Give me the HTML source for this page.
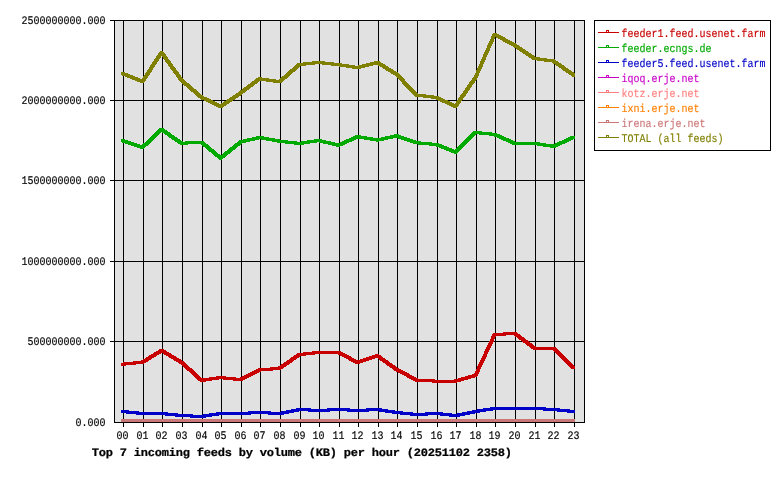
<!DOCTYPE html>
<html lang="en"><head><meta charset="utf-8"><title>Top 7 incoming feeds by volume (KB) per hour</title>
<style>html,body{margin:0;padding:0;background:#fff;overflow:hidden}svg{display:block}
.s{font-family:"Liberation Mono", "DejaVu Sans Mono", monospace;font-size:10px;letter-spacing:0px;white-space:pre;text-rendering:geometricPrecision;stroke-width:0.12px}
.b{font-family:"Liberation Mono", "DejaVu Sans Mono", monospace;font-size:12px;font-weight:bold;letter-spacing:-0.2px;white-space:pre;text-rendering:geometricPrecision;stroke-width:0.25px}
</style></head><body>
<svg width="780" height="480" viewBox="0 0 780 480">
<rect x="0" y="0" width="780" height="480" fill="#ffffff"/>
<g shape-rendering="crispEdges">
<rect x="114" y="20" width="471" height="403" fill="#e1e1e1"/>
<rect x="123" y="20" width="1" height="407" fill="#000"/>
<rect x="143" y="20" width="1" height="407" fill="#000"/>
<rect x="162" y="20" width="1" height="407" fill="#000"/>
<rect x="182" y="20" width="1" height="407" fill="#000"/>
<rect x="202" y="20" width="1" height="407" fill="#000"/>
<rect x="221" y="20" width="1" height="407" fill="#000"/>
<rect x="241" y="20" width="1" height="407" fill="#000"/>
<rect x="260" y="20" width="1" height="407" fill="#000"/>
<rect x="280" y="20" width="1" height="407" fill="#000"/>
<rect x="300" y="20" width="1" height="407" fill="#000"/>
<rect x="319" y="20" width="1" height="407" fill="#000"/>
<rect x="339" y="20" width="1" height="407" fill="#000"/>
<rect x="358" y="20" width="1" height="407" fill="#000"/>
<rect x="378" y="20" width="1" height="407" fill="#000"/>
<rect x="397" y="20" width="1" height="407" fill="#000"/>
<rect x="417" y="20" width="1" height="407" fill="#000"/>
<rect x="437" y="20" width="1" height="407" fill="#000"/>
<rect x="456" y="20" width="1" height="407" fill="#000"/>
<rect x="476" y="20" width="1" height="407" fill="#000"/>
<rect x="495" y="20" width="1" height="407" fill="#000"/>
<rect x="515" y="20" width="1" height="407" fill="#000"/>
<rect x="535" y="20" width="1" height="407" fill="#000"/>
<rect x="554" y="20" width="1" height="407" fill="#000"/>
<rect x="574" y="20" width="1" height="407" fill="#000"/>
<rect x="114" y="422" width="471" height="1" fill="#000"/>
<rect x="110" y="341" width="475" height="1" fill="#000"/>
<rect x="110" y="261" width="475" height="1" fill="#000"/>
<rect x="110" y="180" width="475" height="1" fill="#000"/>
<rect x="110" y="100" width="475" height="1" fill="#000"/>
<rect x="110" y="20" width="475" height="1" fill="#000"/>
<rect x="114" y="20" width="1" height="403" fill="#000"/>
<rect x="584" y="20" width="1" height="403" fill="#000"/>
<path fill="#c80000" d="M121.00 362.70 L141.00 360.70 L144.00 360.70 L144.00 363.70 L124.00 365.70 L121.00 365.70Z M141.00 360.70 L160.00 349.00 L163.00 349.00 L163.00 352.00 L144.00 363.70 L141.00 363.70Z M160.00 349.00 L163.00 349.00 L183.00 360.80 L183.00 363.80 L180.00 363.80 L160.00 352.00Z M180.00 360.80 L183.00 360.80 L203.00 378.90 L203.00 381.90 L200.00 381.90 L180.00 363.80Z M200.00 378.90 L219.00 376.10 L222.00 376.10 L222.00 379.10 L203.00 381.90 L200.00 381.90Z M219.00 376.10 L222.00 376.10 L242.00 378.10 L242.00 381.10 L239.00 381.10 L219.00 379.10Z M239.00 378.10 L258.00 368.50 L261.00 368.50 L261.00 371.50 L242.00 381.10 L239.00 381.10Z M258.00 368.50 L278.00 366.80 L281.00 366.80 L281.00 369.80 L261.00 371.50 L258.00 371.50Z M278.00 366.80 L298.00 353.00 L301.00 353.00 L301.00 356.00 L281.00 369.80 L278.00 369.80Z M298.00 353.00 L317.00 351.00 L320.00 351.00 L320.00 354.00 L301.00 356.00 L298.00 356.00Z M317.00 351.00 L340.00 351.00 L340.00 354.00 L317.00 354.00Z M337.00 351.00 L340.00 351.00 L359.00 360.90 L359.00 363.90 L356.00 363.90 L337.00 354.00Z M356.00 360.90 L376.00 354.30 L379.00 354.30 L379.00 357.30 L359.00 363.90 L356.00 363.90Z M376.00 354.30 L379.00 354.30 L398.00 367.90 L398.00 370.90 L395.00 370.90 L376.00 357.30Z M395.00 367.90 L398.00 367.90 L418.00 378.50 L418.00 381.50 L415.00 381.50 L395.00 370.90Z M415.00 378.50 L418.00 378.50 L438.00 379.70 L438.00 382.70 L435.00 382.70 L415.00 381.50Z M435.00 379.70 L454.00 379.50 L457.00 379.50 L457.00 382.50 L438.00 382.70 L435.00 382.70Z M454.00 379.50 L474.00 373.90 L477.00 373.90 L477.00 376.90 L457.00 382.50 L454.00 382.50Z M474.00 373.90 L493.00 333.20 L496.00 333.20 L496.00 336.20 L477.00 376.90 L474.00 376.90Z M493.00 333.20 L513.00 331.80 L516.00 331.80 L516.00 334.80 L496.00 336.20 L493.00 336.20Z M513.00 331.80 L516.00 331.80 L536.00 346.80 L536.00 349.80 L533.00 349.80 L513.00 334.80Z M533.00 346.80 L555.00 346.80 L555.00 349.80 L533.00 349.80Z M552.00 346.80 L555.00 346.80 L575.00 366.20 L575.00 369.20 L572.00 369.20 L552.00 349.80Z"/>
<path fill="#00aa00" d="M121.00 139.30 L124.00 139.30 L144.00 145.80 L144.00 148.80 L141.00 148.80 L121.00 142.30Z M141.00 145.80 L160.00 128.00 L163.00 128.00 L163.00 131.00 L144.00 148.80 L141.00 148.80Z M160.00 128.00 L163.00 128.00 L183.00 141.80 L183.00 144.80 L180.00 144.80 L160.00 131.00Z M180.00 141.80 L200.00 140.70 L203.00 140.70 L203.00 143.70 L183.00 144.80 L180.00 144.80Z M200.00 140.70 L203.00 140.70 L222.00 156.50 L222.00 159.50 L219.00 159.50 L200.00 143.70Z M219.00 156.50 L239.00 140.50 L242.00 140.50 L242.00 143.50 L222.00 159.50 L219.00 159.50Z M239.00 140.50 L258.00 136.00 L261.00 136.00 L261.00 139.00 L242.00 143.50 L239.00 143.50Z M258.00 136.00 L261.00 136.00 L281.00 139.70 L281.00 142.70 L278.00 142.70 L258.00 139.00Z M278.00 139.70 L281.00 139.70 L301.00 141.90 L301.00 144.90 L298.00 144.90 L278.00 142.70Z M298.00 141.90 L317.00 139.00 L320.00 139.00 L320.00 142.00 L301.00 144.90 L298.00 144.90Z M317.00 139.00 L320.00 139.00 L340.00 143.70 L340.00 146.70 L337.00 146.70 L317.00 142.00Z M337.00 143.70 L356.00 135.20 L359.00 135.20 L359.00 138.20 L340.00 146.70 L337.00 146.70Z M356.00 135.20 L359.00 135.20 L379.00 138.50 L379.00 141.50 L376.00 141.50 L356.00 138.20Z M376.00 138.50 L395.00 134.30 L398.00 134.30 L398.00 137.30 L379.00 141.50 L376.00 141.50Z M395.00 134.30 L398.00 134.30 L418.00 141.20 L418.00 144.20 L415.00 144.20 L395.00 137.30Z M415.00 141.20 L418.00 141.20 L438.00 143.00 L438.00 146.00 L435.00 146.00 L415.00 144.20Z M435.00 143.00 L438.00 143.00 L457.00 150.60 L457.00 153.60 L454.00 153.60 L435.00 146.00Z M454.00 150.60 L474.00 131.00 L477.00 131.00 L477.00 134.00 L457.00 153.60 L454.00 153.60Z M474.00 131.00 L477.00 131.00 L496.00 132.90 L496.00 135.90 L493.00 135.90 L474.00 134.00Z M493.00 132.90 L496.00 132.90 L516.00 141.80 L516.00 144.80 L513.00 144.80 L493.00 135.90Z M513.00 141.80 L536.00 141.80 L536.00 144.80 L513.00 144.80Z M533.00 141.80 L536.00 141.80 L555.00 144.90 L555.00 147.90 L552.00 147.90 L533.00 144.80Z M552.00 144.90 L572.00 135.70 L575.00 135.70 L575.00 138.70 L555.00 147.90 L552.00 147.90Z"/>
<path fill="#0000c8" d="M121.00 410.00 L124.00 410.00 L144.00 412.00 L144.00 415.00 L141.00 415.00 L121.00 413.00Z M141.00 412.00 L163.00 412.00 L163.00 415.00 L141.00 415.00Z M160.00 412.00 L163.00 412.00 L183.00 414.00 L183.00 417.00 L180.00 417.00 L160.00 415.00Z M180.00 414.00 L183.00 414.00 L203.00 415.00 L203.00 418.00 L200.00 418.00 L180.00 417.00Z M200.00 415.00 L219.00 412.00 L222.00 412.00 L222.00 415.00 L203.00 418.00 L200.00 418.00Z M219.00 412.00 L242.00 412.00 L242.00 415.00 L219.00 415.00Z M239.00 412.00 L258.00 411.00 L261.00 411.00 L261.00 414.00 L242.00 415.00 L239.00 415.00Z M258.00 411.00 L261.00 411.00 L281.00 412.00 L281.00 415.00 L278.00 415.00 L258.00 414.00Z M278.00 412.00 L298.00 408.00 L301.00 408.00 L301.00 411.00 L281.00 415.00 L278.00 415.00Z M298.00 408.00 L301.00 408.00 L320.00 409.00 L320.00 412.00 L317.00 412.00 L298.00 411.00Z M317.00 409.00 L337.00 408.00 L340.00 408.00 L340.00 411.00 L320.00 412.00 L317.00 412.00Z M337.00 408.00 L340.00 408.00 L359.00 409.00 L359.00 412.00 L356.00 412.00 L337.00 411.00Z M356.00 409.00 L376.00 408.00 L379.00 408.00 L379.00 411.00 L359.00 412.00 L356.00 412.00Z M376.00 408.00 L379.00 408.00 L398.00 411.00 L398.00 414.00 L395.00 414.00 L376.00 411.00Z M395.00 411.00 L398.00 411.00 L418.00 413.00 L418.00 416.00 L415.00 416.00 L395.00 414.00Z M415.00 413.00 L435.00 412.00 L438.00 412.00 L438.00 415.00 L418.00 416.00 L415.00 416.00Z M435.00 412.00 L438.00 412.00 L457.00 414.00 L457.00 417.00 L454.00 417.00 L435.00 415.00Z M454.00 414.00 L474.00 410.00 L477.00 410.00 L477.00 413.00 L457.00 417.00 L454.00 417.00Z M474.00 410.00 L493.00 407.00 L496.00 407.00 L496.00 410.00 L477.00 413.00 L474.00 413.00Z M493.00 407.00 L516.00 407.00 L516.00 410.00 L493.00 410.00Z M513.00 407.00 L536.00 407.00 L536.00 410.00 L513.00 410.00Z M533.00 407.00 L536.00 407.00 L555.00 408.00 L555.00 411.00 L552.00 411.00 L533.00 410.00Z M552.00 408.00 L555.00 408.00 L575.00 410.00 L575.00 413.00 L572.00 413.00 L552.00 411.00Z"/>
<rect x="121" y="419" width="454" height="3" fill="#cc7777"/>
<path fill="#7f7f00" d="M121.00 72.00 L124.00 72.00 L144.00 80.00 L144.00 83.00 L141.00 83.00 L121.00 75.00Z M141.00 80.00 L160.00 51.00 L163.00 51.00 L163.00 54.00 L144.00 83.00 L141.00 83.00Z M160.00 51.00 L163.00 51.00 L183.00 78.70 L183.00 81.70 L180.00 81.70 L160.00 54.00Z M180.00 78.70 L183.00 78.70 L203.00 95.80 L203.00 98.80 L200.00 98.80 L180.00 81.70Z M200.00 95.80 L203.00 95.80 L222.00 104.90 L222.00 107.90 L219.00 107.90 L200.00 98.80Z M219.00 104.90 L239.00 91.50 L242.00 91.50 L242.00 94.50 L222.00 107.90 L219.00 107.90Z M239.00 91.50 L258.00 77.30 L261.00 77.30 L261.00 80.30 L242.00 94.50 L239.00 94.50Z M258.00 77.30 L261.00 77.30 L281.00 80.30 L281.00 83.30 L278.00 83.30 L258.00 80.30Z M278.00 80.30 L298.00 63.00 L301.00 63.00 L301.00 66.00 L281.00 83.30 L278.00 83.30Z M298.00 63.00 L317.00 61.00 L320.00 61.00 L320.00 64.00 L301.00 66.00 L298.00 66.00Z M317.00 61.00 L320.00 61.00 L340.00 63.20 L340.00 66.20 L337.00 66.20 L317.00 64.00Z M337.00 63.20 L340.00 63.20 L359.00 66.10 L359.00 69.10 L356.00 69.10 L337.00 66.20Z M356.00 66.10 L376.00 61.10 L379.00 61.10 L379.00 64.10 L359.00 69.10 L356.00 69.10Z M376.00 61.10 L379.00 61.10 L398.00 72.70 L398.00 75.70 L395.00 75.70 L376.00 64.10Z M395.00 72.70 L398.00 72.70 L418.00 93.50 L418.00 96.50 L415.00 96.50 L395.00 75.70Z M415.00 93.50 L418.00 93.50 L438.00 96.00 L438.00 99.00 L435.00 99.00 L415.00 96.50Z M435.00 96.00 L438.00 96.00 L457.00 104.90 L457.00 107.90 L454.00 107.90 L435.00 99.00Z M454.00 104.90 L474.00 76.00 L477.00 76.00 L477.00 79.00 L457.00 107.90 L454.00 107.90Z M474.00 76.00 L493.00 33.00 L496.00 33.00 L496.00 36.00 L477.00 79.00 L474.00 79.00Z M493.00 33.00 L496.00 33.00 L516.00 43.50 L516.00 46.50 L513.00 46.50 L493.00 36.00Z M513.00 43.50 L516.00 43.50 L536.00 57.00 L536.00 60.00 L533.00 60.00 L513.00 46.50Z M533.00 57.00 L536.00 57.00 L555.00 59.50 L555.00 62.50 L552.00 62.50 L533.00 60.00Z M552.00 59.50 L555.00 59.50 L575.00 73.50 L575.00 76.50 L572.00 76.50 L552.00 62.50Z"/>
<rect x="594.5" y="20.5" width="176" height="130" fill="#fff" stroke="#000" stroke-width="1"/>
<rect x="598" y="32" width="21" height="1" fill="#c80000"/>
<rect x="606.5" y="30.5" width="2" height="2" fill="#fff" stroke="#c80000" stroke-width="1"/>
<rect x="598" y="47" width="21" height="1" fill="#00aa00"/>
<rect x="606.5" y="45.5" width="2" height="2" fill="#fff" stroke="#00aa00" stroke-width="1"/>
<rect x="598" y="62" width="21" height="1" fill="#0000c8"/>
<rect x="606.5" y="60.5" width="2" height="2" fill="#fff" stroke="#0000c8" stroke-width="1"/>
<rect x="598" y="77" width="21" height="1" fill="#c800c8"/>
<rect x="606.5" y="75.5" width="2" height="2" fill="#fff" stroke="#c800c8" stroke-width="1"/>
<rect x="598" y="92" width="21" height="1" fill="#ff7f7f"/>
<rect x="606.5" y="90.5" width="2" height="2" fill="#fff" stroke="#ff7f7f" stroke-width="1"/>
<rect x="598" y="107" width="21" height="1" fill="#ff7f00"/>
<rect x="606.5" y="105.5" width="2" height="2" fill="#fff" stroke="#ff7f00" stroke-width="1"/>
<rect x="598" y="122" width="21" height="1" fill="#cc7777"/>
<rect x="606.5" y="120.5" width="2" height="2" fill="#fff" stroke="#cc7777" stroke-width="1"/>
<rect x="598" y="137" width="21" height="1" fill="#7f7f00"/>
<rect x="606.5" y="135.5" width="2" height="2" fill="#fff" stroke="#7f7f00" stroke-width="1"/>
</g>
<text class="s" fill="#c80000" stroke="#c80000" transform="translate(621.5,37) scale(1,1.16)">feeder1.feed.usenet.farm</text>
<text class="s" fill="#00aa00" stroke="#00aa00" transform="translate(621.5,52) scale(1,1.16)">feeder.ecngs.de</text>
<text class="s" fill="#0000c8" stroke="#0000c8" transform="translate(621.5,67) scale(1,1.16)">feeder5.feed.usenet.farm</text>
<text class="s" fill="#c800c8" stroke="#c800c8" transform="translate(621.5,82) scale(1,1.16)">iqoq.erje.net</text>
<text class="s" fill="#ff7f7f" stroke="#ff7f7f" transform="translate(621.5,97) scale(1,1.16)">kotz.erje.net</text>
<text class="s" fill="#ff7f00" stroke="#ff7f00" transform="translate(621.5,112) scale(1,1.16)">ixni.erje.net</text>
<text class="s" fill="#cc7777" stroke="#cc7777" transform="translate(621.5,127) scale(1,1.16)">irena.erje.net</text>
<text class="s" fill="#7f7f00" stroke="#7f7f00" transform="translate(621.5,142) scale(1,1.16)">TOTAL (all feeds)</text>
<text class="s" fill="#000" stroke="#000" transform="translate(75.5,426) scale(1,1.16)">0.000</text>
<text class="s" fill="#000" stroke="#000" transform="translate(27.5,345) scale(1,1.16)">500000000.000</text>
<text class="s" fill="#000" stroke="#000" transform="translate(21.5,265) scale(1,1.16)">1000000000.000</text>
<text class="s" fill="#000" stroke="#000" transform="translate(21.5,184) scale(1,1.16)">1500000000.000</text>
<text class="s" fill="#000" stroke="#000" transform="translate(21.5,104) scale(1,1.16)">2000000000.000</text>
<text class="s" fill="#000" stroke="#000" transform="translate(21.5,24) scale(1,1.16)">2500000000.000</text>
<text class="s" fill="#000" stroke="#000" transform="translate(116.5,439) scale(1,1.16)">00</text>
<text class="s" fill="#000" stroke="#000" transform="translate(136.5,439) scale(1,1.16)">01</text>
<text class="s" fill="#000" stroke="#000" transform="translate(155.5,439) scale(1,1.16)">02</text>
<text class="s" fill="#000" stroke="#000" transform="translate(175.5,439) scale(1,1.16)">03</text>
<text class="s" fill="#000" stroke="#000" transform="translate(195.5,439) scale(1,1.16)">04</text>
<text class="s" fill="#000" stroke="#000" transform="translate(214.5,439) scale(1,1.16)">05</text>
<text class="s" fill="#000" stroke="#000" transform="translate(234.5,439) scale(1,1.16)">06</text>
<text class="s" fill="#000" stroke="#000" transform="translate(253.5,439) scale(1,1.16)">07</text>
<text class="s" fill="#000" stroke="#000" transform="translate(273.5,439) scale(1,1.16)">08</text>
<text class="s" fill="#000" stroke="#000" transform="translate(293.5,439) scale(1,1.16)">09</text>
<text class="s" fill="#000" stroke="#000" transform="translate(312.5,439) scale(1,1.16)">10</text>
<text class="s" fill="#000" stroke="#000" transform="translate(332.5,439) scale(1,1.16)">11</text>
<text class="s" fill="#000" stroke="#000" transform="translate(351.5,439) scale(1,1.16)">12</text>
<text class="s" fill="#000" stroke="#000" transform="translate(371.5,439) scale(1,1.16)">13</text>
<text class="s" fill="#000" stroke="#000" transform="translate(390.5,439) scale(1,1.16)">14</text>
<text class="s" fill="#000" stroke="#000" transform="translate(410.5,439) scale(1,1.16)">15</text>
<text class="s" fill="#000" stroke="#000" transform="translate(430.5,439) scale(1,1.16)">16</text>
<text class="s" fill="#000" stroke="#000" transform="translate(449.5,439) scale(1,1.16)">17</text>
<text class="s" fill="#000" stroke="#000" transform="translate(469.5,439) scale(1,1.16)">18</text>
<text class="s" fill="#000" stroke="#000" transform="translate(488.5,439) scale(1,1.16)">19</text>
<text class="s" fill="#000" stroke="#000" transform="translate(508.5,439) scale(1,1.16)">20</text>
<text class="s" fill="#000" stroke="#000" transform="translate(528.5,439) scale(1,1.16)">21</text>
<text class="s" fill="#000" stroke="#000" transform="translate(547.5,439) scale(1,1.16)">22</text>
<text class="s" fill="#000" stroke="#000" transform="translate(567.5,439) scale(1,1.16)">23</text>
<text class="b" fill="#000" stroke="#000" transform="translate(91.8,456) scale(1,0.94)">Top 7 incoming feeds by volume (KB) per hour (20251102 2358)</text>
</svg></body></html>
